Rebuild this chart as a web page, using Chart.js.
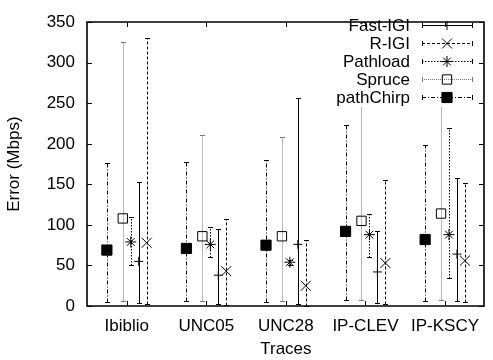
<!DOCTYPE html>
<html>
<head>
<meta charset="utf-8">
<script src="https://cdn.jsdelivr.net/npm/chart.js@4/dist/chart.umd.min.js"></script>
<style>
html,body{margin:0;padding:0;background:#fff;}
#wrap{width:493px;height:360px;position:relative;}
</style>
</head>
<body>
<div id="wrap"><canvas id="c" width="493" height="360"></canvas></div>
<script>
// ---- data ----
const categories = ['Ibiblio', 'UNC05', 'UNC28', 'IP-CLEV', 'IP-KSCY'];
const yTicks = [0, 50, 100, 150, 200, 250, 300, 350];

const fastIGI    = [55, 38, 76, 42, 64];
const fastIGIMin = [4, 2, 2, 4, 6];
const fastIGIMax = [153, 95, 257, 93, 158];

const rIGI    = [78, 43, 25, 53, 56];
const rIGIMin = [3, 1, 0, 2, 5];
const rIGIMax = [331, 107, 82, 156, 152];

const pathload    = [79, 76, 54, 88, 88];
const pathloadMin = [50, 60, 51, 60, 34];
const pathloadMax = [110, 98, 57, 114, 220];

const spruce    = [108, 86, 86, 105, 114];
const spruceMin = [6, 6, 6, 7, 8];
const spruceMax = [325, 211, 209, 290, 300];

const pathChirp    = [69, 71, 75, 92, 82];
const pathChirpMin = [5, 6, 5, 7, 6];
const pathChirpMax = [176, 177, 180, 223, 199];

// ---- styling ----
const FONT = "'Liberation Sans', Arial, Helvetica, sans-serif";
const FS = 17;

const series = [
  {label:'Fast-IGI',  v:fastIGI,   lo:fastIGIMin,   hi:fastIGIMax,   off: 0.15, color:'#000', dash:[],        style:'cross',    r:4.5, fill:'rgba(0,0,0,0)'},
  {label:'R-IGI',     v:rIGI,      lo:rIGIMin,      hi:rIGIMax,      off: 0.25, color:'#000', dash:[3,2],     style:'crossRot', r:7,   fill:'rgba(0,0,0,0)'},
  {label:'Pathload',  v:pathload,  lo:pathloadMin,  hi:pathloadMax,  off: 0.05, color:'#000', dash:[1.5,1.5], style:'star',     r:5.5, fill:'rgba(0,0,0,0)'},
  {label:'Spruce',    v:spruce,    lo:spruceMin,    hi:spruceMax,    off:-0.05, color:'#777', dash:[1,1],     style:'rect',     r:6.6, fill:'rgba(0,0,0,0)', pcolor:'#000'},
  {label:'pathChirp', v:pathChirp, lo:pathChirpMin, hi:pathChirpMax, off:-0.25, color:'#000', dash:[4,2,1,2], style:'rect',     r:7.2, fill:'#000'}
];

const datasets = series.map(s => ({
  label: s.label,
  data: s.v.map((val, i) => ({x: i + 1 + s.off, y: val})),
  pointStyle: s.style,
  pointRadius: s.r,
  pointHoverRadius: s.r,
  borderColor: s.pcolor || s.color,
  backgroundColor: s.fill,
  pointBorderWidth: 1,
  showLine: false
}));

// error bars, drawn through the chart's scales
const errorBars = {
  id: 'errorBars',
  beforeDatasetsDraw(chart) {
    const {ctx, scales:{x, y}} = chart;
    series.forEach(s => {
      ctx.save();
      ctx.strokeStyle = s.color;
      ctx.lineWidth = 1;
      s.v.forEach((val, i) => {
        const px = Math.round(x.getPixelForValue(i + 1 + s.off)) + 0.5;
        const y1 = Math.round(y.getPixelForValue(s.lo[i])) + 0.5;
        const y2 = Math.round(y.getPixelForValue(s.hi[i])) + 0.5;
        ctx.setLineDash(s.dash);
        ctx.beginPath();
        ctx.moveTo(px, y1); ctx.lineTo(px, y2);
        ctx.stroke();
        ctx.setLineDash([]);
        ctx.beginPath();
        ctx.moveTo(px - 2.5, y1); ctx.lineTo(px + 2.5, y1);
        ctx.moveTo(px - 2.5, y2); ctx.lineTo(px + 2.5, y2);
        ctx.stroke();
      });
      ctx.restore();
    });
  }
};

// opaque key (gnuplot style) in the top right
const keyBox = {
  id: 'keyBox',
  afterDatasetsDraw(chart) {
    const {ctx, chartArea:a} = chart;
    const textRight = 410, x1 = 422, x2 = 473, xm = 447, y0 = 25, dy = 18;
    ctx.save();
    ctx.fillStyle = '#fff';
    ctx.fillRect(330, a.top + 1, a.right - 331, y0 + dy * (series.length - 1) + 9 - a.top);
    ctx.font = FS + 'px ' + FONT;
    ctx.textAlign = 'right';
    ctx.textBaseline = 'middle';
    series.forEach((s, i) => {
      const yy = y0 + dy * i;
      ctx.fillStyle = '#000';
      ctx.fillText(s.label, textRight, yy + 1);
      const ly = Math.round(yy) + 0.5;
      ctx.strokeStyle = s.color;
      ctx.lineWidth = 1;
      ctx.setLineDash(s.dash);
      ctx.beginPath(); ctx.moveTo(x1, ly); ctx.lineTo(x2, ly); ctx.stroke();
      ctx.setLineDash([]);
      ctx.beginPath();
      ctx.moveTo(x1 + 0.5, ly - 2.5); ctx.lineTo(x1 + 0.5, ly + 2.5);
      ctx.moveTo(x2 - 0.5, ly - 2.5); ctx.lineTo(x2 - 0.5, ly + 2.5);
      ctx.stroke();
      ctx.strokeStyle = s.pcolor || s.color;
      ctx.fillStyle = s.fill;
      Chart.helpers.drawPoint(ctx, {pointStyle: s.style, radius: s.r, borderWidth: 1, rotation: 0}, xm, ly);
    });
    ctx.restore();
  }
};

// frame and inward mirrored ticks
const frame = {
  id: 'frame',
  afterDraw(chart) {
    const {ctx, chartArea:a, scales:{x, y}} = chart;
    const L = Math.round(a.left), R = Math.round(a.right) - 1;
    const T = Math.round(a.top), B = Math.round(a.bottom);
    ctx.save();
    ctx.strokeStyle = '#000';
    ctx.lineWidth = 1.6;
    ctx.beginPath();
    ctx.rect(L, T, R - L, B - T);
    ctx.stroke();
    ctx.lineWidth = 1;
    ctx.beginPath();
    const tl = 5;
    yTicks.forEach(v => {
      const py = Math.round(y.getPixelForValue(v)) + 0.5;
      ctx.moveTo(L, py); ctx.lineTo(L + tl, py);
      ctx.moveTo(R, py); ctx.lineTo(R - tl, py);
    });
    categories.forEach((c, i) => {
      const px = Math.round(x.getPixelForValue(i + 1)) + 0.5;
      ctx.moveTo(px, B); ctx.lineTo(px, B - tl);
      ctx.moveTo(px, T); ctx.lineTo(px, T + tl);
    });
    ctx.stroke();
    ctx.restore();
  }
};

new Chart(document.getElementById('c'), {
  type: 'scatter',
  data: { datasets },
  plugins: [errorBars, keyBox, frame],
  options: {
    responsive: false,
    animation: false,
    events: [],
    layout: { padding: { top: 13, right: 1, left: 0, bottom: 0 } },
    plugins: { legend: { display: false }, tooltip: { enabled: false } },
    scales: {
      x: {
        type: 'linear',
        min: 0.5, max: 5.5,
        afterBuildTicks: s => { s.ticks = categories.map((c, i) => ({ value: i + 1 })); },
        afterFit: s => { s.height = 54; },
        grid: { display: false, drawTicks: false },
        border: { display: false },
        ticks: {
          color: '#000', padding: 10, maxRotation: 0, autoSkip: false,
          font: { family: FONT, size: FS },
          callback: v => categories[Math.round(v) - 1]
        },
        title: { display: true, text: 'Traces', color: '#000', padding: { top: 0, bottom: 0 }, font: { family: FONT, size: FS } }
      },
      y: {
        min: 0, max: 350,
        afterBuildTicks: s => { s.ticks = yTicks.map(v => ({ value: v })); },
        afterFit: s => { s.width = 87; },
        grid: { display: false, drawTicks: false },
        border: { display: false },
        ticks: { color: '#000', padding: 12, font: { family: FONT, size: FS } },
        title: { display: true, text: 'Error (Mbps)', color: '#000', padding: { top: 4, bottom: 0 }, font: { family: FONT, size: FS } }
      }
    }
  }
});
</script>
</body>
</html>
